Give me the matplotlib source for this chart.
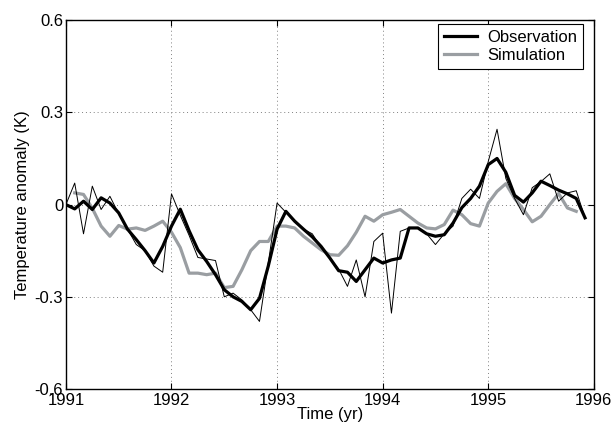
import numpy as np
import matplotlib
matplotlib.use("Agg")
import matplotlib.pyplot as plt

plt.rcParams['font.family'] = ['Liberation Sans', 'DejaVu Sans']
plt.rcParams['axes.unicode_minus'] = False

# Monthly series starting January 1991
start_year = 1991

obs_monthly = [0.0, 0.07, -0.095, 0.06, -0.016, 0.027, -0.03, -0.08, -0.13, -0.15, -0.20, -0.22,
               0.035, -0.035, -0.10, -0.172, -0.177, -0.182, -0.30, -0.288, -0.31, -0.342, -0.38, -0.19,
               0.005, -0.025, -0.055, -0.08, -0.095, -0.14, -0.175, -0.21, -0.266, -0.18, -0.30, -0.12,
               -0.093, -0.353, -0.087, -0.076, -0.076, -0.095, -0.13, -0.095, -0.07, 0.02, 0.05, 0.02,
               0.14, 0.245, 0.085, 0.02, -0.033, 0.055, 0.075, 0.10, 0.011, 0.038, 0.045, -0.043]

obs_smooth = [0.0, -0.014, 0.011, -0.016, 0.022, 0.005, -0.027, -0.08, -0.114, -0.15, -0.19, -0.136,
              -0.07, -0.015, -0.085, -0.147, -0.185, -0.228, -0.277, -0.30, -0.315, -0.342, -0.305, -0.20,
              -0.08, -0.022, -0.054, -0.08, -0.105, -0.136, -0.174, -0.215, -0.22, -0.25, -0.212, -0.174,
              -0.19, -0.18, -0.174, -0.076, -0.076, -0.095, -0.103, -0.098, -0.06, -0.01, 0.02, 0.06,
              0.13, 0.15, 0.105, 0.03, 0.008, 0.038, 0.076, 0.062, 0.047, 0.035, 0.02, -0.043]

# Simulation covers months 1..58
sim_first_month = 1
simulation = [0.038, 0.033, -0.012, -0.07, -0.103, -0.068, -0.08, -0.076, -0.084, -0.07, -0.054,
              -0.09, -0.14, -0.223, -0.223, -0.228, -0.223, -0.27, -0.266, -0.212, -0.15, -0.12, -0.12,
              -0.07, -0.07, -0.076, -0.103, -0.125, -0.147, -0.163, -0.165, -0.134, -0.09, -0.038, -0.054,
              -0.033, -0.025, -0.016, -0.038, -0.06, -0.076, -0.079, -0.065, -0.018, -0.033, -0.062, -0.07,
              0.005, 0.043, 0.068, 0.02, -0.016, -0.056, -0.038, 0.0, 0.036, -0.011, -0.022]

x_ticks = [1991, 1992, 1993, 1994, 1995, 1996]
y_ticks = [-0.6, -0.3, 0.0, 0.3, 0.6]
y_tick_labels = ['-0.6', '-0.3', '0', '0.3', '0.6']

t_obs = start_year + np.arange(len(obs_monthly)) / 12.0
t_sim = start_year + (sim_first_month + np.arange(len(simulation))) / 12.0

fig = plt.figure(figsize=(6.16, 4.28), dpi=100)
ax = fig.add_axes([0.107, 0.091, 0.857, 0.862])

gray = '#9a9ea2'
ax.plot(t_sim, simulation, color=gray, lw=2.3, label='Simulation', zorder=2)
ax.plot(t_obs, obs_monthly, color='black', lw=0.7, zorder=3)
ax.plot(t_obs, obs_smooth, color='black', lw=2.3, label='Observation', zorder=4)

ax.set_xlim(1991, 1996)
ax.set_ylim(-0.6, 0.6)
ax.set_xticks(x_ticks)
ax.set_xticklabels([str(v) for v in x_ticks])
ax.set_yticks(y_ticks)
ax.set_yticklabels(y_tick_labels)

ax.grid(True, linestyle=(0, (1, 3)), color='#808080', lw=0.7)
ax.tick_params(direction='in', length=4, width=0.8, top=True, right=True,
               labelsize=12, pad=2)
ax.tick_params(axis='x', pad=3)
for s in ax.spines.values():
    s.set_linewidth(1.0)

ax.set_xlabel('Time (yr)', fontsize=12, labelpad=-1)
ax.set_ylabel('Temperature anomaly (K)', fontsize=12, labelpad=3)

handles, labels = ax.get_legend_handles_labels()
order = [labels.index('Observation'), labels.index('Simulation')]
leg = ax.legend([handles[i] for i in order], [labels[i] for i in order],
                loc='upper right', bbox_to_anchor=(0.98, 0.99), fontsize=12,
                frameon=True, fancybox=False, edgecolor='black', framealpha=1,
                handlelength=2.0, handletextpad=0.6, borderpad=0.35,
                labelspacing=0.2, borderaxespad=0.0)
leg.get_frame().set_linewidth(0.8)

fig.savefig('out.png', dpi=100)
